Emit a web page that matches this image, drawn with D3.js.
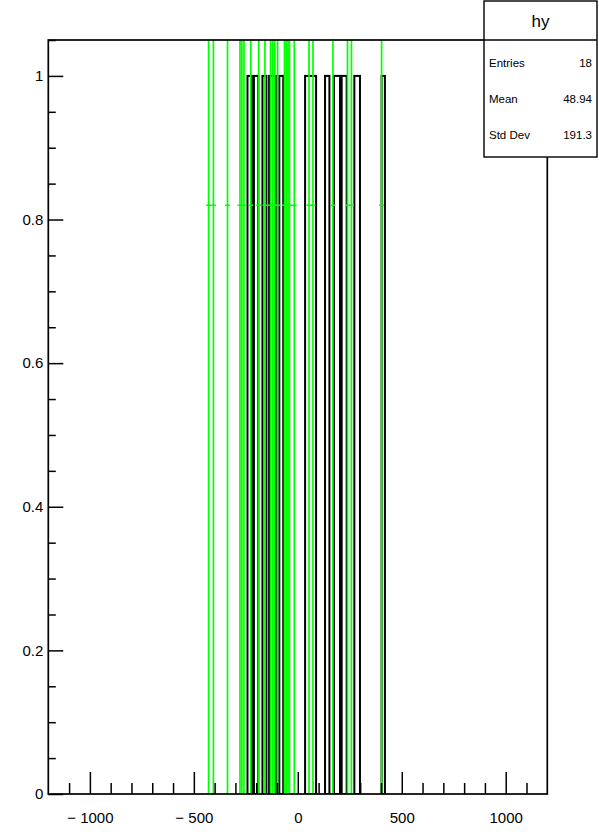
<!DOCTYPE html>
<html>
<head>
<meta charset="utf-8">
<script src="https://cdn.jsdelivr.net/npm/d3@7"></script>
<style>
  html, body { margin: 0; padding: 0; background: #fff; }
  svg { display: block; }
  text { font-family: "Liberation Sans", Arial, Helvetica, sans-serif; }
</style>
</head>
<body>
<script>
// ---- data ----
// black histogram (hy): filled bins, content 1, given as [low edge, high edge]
const barLow  = [-242, -211, -170, -138, -89, 35, 131, 174, 211, 272, 403];
const barHigh = [-221, -190, -151, -106, -70, 88, 152, 203, 235, 299, 419];
const barValue = [1, 1, 1, 1, 1, 1, 1, 1, 1, 1, 1];

// green points with (large) error bars
const greenX = [-429, -406, -338, -278, -269, -259, -226, -188, -158, -131, -121, -111,
                -97, -64, -56, -47, -40, -17, 54, 73, 169, 239, 258, 403];
const greenY = 0.82;
const greenErr = 1.0;

const xMajorTicks = [-1000, -500, 0, 500, 1000];
const xMajorLabels = ["\u2212 1000", "\u2212 500", "0", "500", "1000"];
const xMinorTicks = [-1100, -900, -800, -700, -600, -400, -300, -200, -100, 100, 200, 300, 400, 600, 700, 800, 900, 1100];
const yMajorTicks = [0, 0.2, 0.4, 0.6, 0.8, 1];
const yMajorLabels = ["0", "0.2", "0.4", "0.6", "0.8", "1"];
const yMinorTicks = [0.05, 0.1, 0.15, 0.25, 0.3, 0.35, 0.45, 0.5, 0.55, 0.65, 0.7, 0.75, 0.85, 0.9, 0.95, 1.05];

const statsTitle = "hy";
const statsNames = ["Entries", "Mean", "Std Dev"];
const statsValues = ["18", "48.94", "191.3"];

// ---- layout ----
const W = 599, H = 834;
const fx0 = 48.3, fx1 = 547.3, fy0 = 40, fy1 = 794;

const svg = d3.select("body").append("svg").attr("width", W).attr("height", H);

const x = d3.scaleLinear().domain([-1200, 1200]).range([fx0, fx1]);
const y = d3.scaleLinear().domain([0, 1.05]).range([fy1, fy0]);

svg.append("defs").append("clipPath").attr("id", "frameclip")
  .append("rect").attr("x", fx0).attr("y", fy0).attr("width", fx1 - fx0).attr("height", fy1 - fy0);

const plot = svg.append("g").attr("clip-path", "url(#frameclip)");

// black histogram outlines
plot.selectAll("rect.bar").data(barLow.map((d, i) => ({lo: d, hi: barHigh[i], v: barValue[i]})))
  .enter().append("rect").attr("class", "bar")
  .attr("x", d => x(d.lo)).attr("width", d => x(d.hi) - x(d.lo))
  .attr("y", d => y(d.v)).attr("height", d => y(0) - y(d.v))
  .attr("fill", "none").attr("stroke", "#000").attr("stroke-width", 2);

// green error bars
const g = plot.selectAll("g.pt").data(greenX).enter().append("g").attr("class", "pt");
g.append("line")
  .attr("x1", d => x(d)).attr("x2", d => x(d))
  .attr("y1", y(greenY - greenErr)).attr("y2", y(greenY + greenErr))
  .attr("stroke", "#00ff00").attr("stroke-width", 1.7);
g.append("line")
  .attr("x1", d => x(d) - 2.5).attr("x2", d => x(d) + 2.5)
  .attr("y1", y(greenY)).attr("y2", y(greenY))
  .attr("stroke", "#00ff00").attr("stroke-width", 1.5);

// axes
const fontSize = 15;
const xAxisMajor = d3.axisBottom(x).tickValues(xMajorTicks)
  .tickFormat((d, i) => xMajorLabels[i]).tickSizeInner(-22).tickSizeOuter(0).tickPadding(18);
const xAxisMinor = d3.axisBottom(x).tickValues(xMinorTicks).tickFormat("").tickSizeInner(-11).tickSizeOuter(0);
const yAxisMajor = d3.axisLeft(y).tickValues(yMajorTicks)
  .tickFormat((d, i) => yMajorLabels[i]).tickSizeInner(-15).tickSizeOuter(0).tickPadding(5);
const yAxisMinor = d3.axisLeft(y).tickValues(yMinorTicks).tickFormat("").tickSizeInner(-7.5).tickSizeOuter(0);

function style(sel) {
  sel.select(".domain").remove();
  sel.selectAll("line").attr("stroke", "#000").attr("stroke-width", 1.5);
  sel.selectAll("text").attr("fill", "#000").style("font-size", fontSize + "px")
     .style("font-family", "'Liberation Sans', Arial, sans-serif");
}
svg.append("g").attr("transform", `translate(0,${fy1})`).call(xAxisMinor).call(style);
svg.append("g").attr("transform", `translate(0,${fy1})`).call(xAxisMajor).call(style);
svg.append("g").attr("transform", `translate(${fx0},0)`).call(yAxisMinor).call(style);
svg.append("g").attr("transform", `translate(${fx0},0)`).call(yAxisMajor).call(style);

// frame
svg.append("rect").attr("x", fx0).attr("y", fy0).attr("width", fx1 - fx0).attr("height", fy1 - fy0)
  .attr("fill", "none").attr("stroke", "#000").attr("stroke-width", 1.7);

// stats box
const bx0 = 484, bx1 = 597, by0 = 1, by1 = 157, bsep = 40;
const sb = svg.append("g");
sb.append("rect").attr("x", bx0).attr("y", by0).attr("width", bx1 - bx0).attr("height", by1 - by0)
  .attr("fill", "#fff").attr("stroke", "#000").attr("stroke-width", 1.4);
sb.append("line").attr("x1", bx0).attr("x2", bx1).attr("y1", bsep).attr("y2", bsep)
  .attr("stroke", "#000").attr("stroke-width", 1.4);
sb.append("text").attr("x", (bx0 + bx1) / 2).attr("y", (by0 + bsep) / 2 + 6)
  .attr("text-anchor", "middle").style("font-size", "17px").text(statsTitle);
const rowStep = 36, firstRow = 63;
statsNames.forEach((n, i) => {
  const cy = firstRow + rowStep * i + 4;
  sb.append("text").attr("x", bx0 + 5).attr("y", cy).style("font-size", "11.5px").text(n);
  sb.append("text").attr("x", bx1 - 5).attr("y", cy).attr("text-anchor", "end")
    .style("font-size", "11.5px").text(statsValues[i]);
});
</script>
</body>
</html>
